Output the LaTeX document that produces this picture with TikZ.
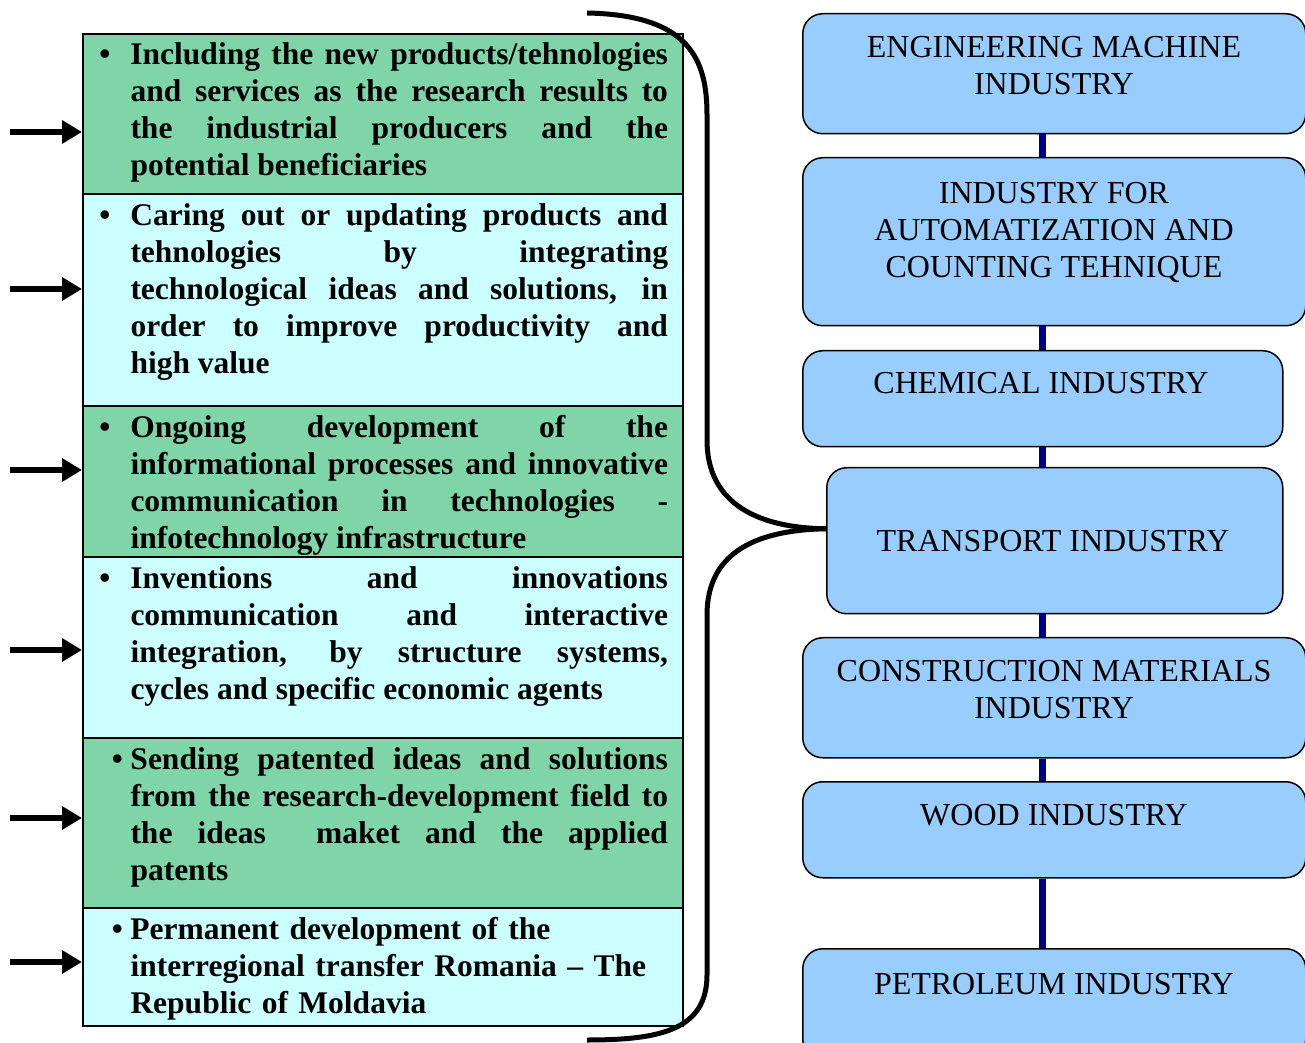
\documentclass[tikz,border=0pt]{standalone}
\usepackage{fontspec}
\setmainfont{Liberation Serif}
\usetikzlibrary{arrows.meta,positioning,calc}
\definecolor{leafgreen}{RGB}{127,212,168}
\definecolor{palecyan}{RGB}{204,255,255}
\definecolor{skyblue}{RGB}{153,204,255}
\definecolor{linknavy}{RGB}{0,0,128}
\tolerance=10000
\hyphenpenalty=10000
\newcommand{\bul}{\leavevmode\llap{\textbullet\hspace{8pt}}}
\newcommand{\bulnear}{\leavevmode\llap{\textbullet\hspace{3pt}}}

\begin{document}
\begin{tikzpicture}[x=0.4pt, y=-0.4pt,
			panel/.style      = {draw, line width=0.8pt, rectangle, anchor=north west, minimum width=240pt, inner sep=0pt},
			point/.style      = {anchor=north west, inner sep=0pt, text width=215pt, align=justify, font=\bfseries\fontsize{12.6}{14.8}\selectfont},
			branch/.style     = {draw, line width=0.6pt, fill=skyblue, rounded corners=8pt, rectangle, anchor=north west, inner sep=0pt},
			branchtext/.style = {anchor=north, inner sep=0pt, align=center, font=\fontsize{12.8}{14.8}\selectfont},
			feed/.style       = {line width=2.4pt, -{Triangle[length=8pt,width=9pt]}},
			link/.style       = {linknavy, line width=2.8pt},
			brace/.style      = {line width=2pt}]
			
			\useasboundingbox (0,0) rectangle (1305,1043);
			\clip (0,0) rectangle (1305,1043);
			
			%% LEFT COLUMN: PANELS
			\node[panel, fill=leafgreen, minimum height=64pt]   (p1) at (82,33) {};
			\node[panel, fill=palecyan,  minimum height=84.8pt] (p2) at (82,193) {};
			\node[panel, fill=leafgreen, minimum height=60.4pt] (p3) at (82,405) {};
			\node[panel, fill=palecyan,  minimum height=72.4pt] (p4) at (82,556) {};
			\node[panel, fill=leafgreen, minimum height=68pt]   (p5) at (82,737) {};
			\node[panel, fill=palecyan,  minimum height=47.2pt] (p6) at (82,907) {};
			
			%% LEFT COLUMN: TEXTS
			\node[point] (t1) at (130,42) {\bul Including the new products/tehnologies\linebreak and services as the research results to\linebreak the industrial producers and the\linebreak potential beneficiaries};
			\node[point] (t2) at (130,203) {\bul Caring out or updating products and\linebreak tehnologies by integrating\linebreak technological ideas and solutions, in\linebreak order to improve productivity and\linebreak high value};
			\node[point] (t3) at (130,415) {\bul Ongoing development of the\linebreak informational processes and innovative\linebreak communication in technologies -\linebreak infotechnology infrastructure};
			\node[point] (t4) at (130,566) {\bul Inventions and innovations\linebreak communication and interactive\linebreak integration, by structure systems,\linebreak cycles and specific economic agents};
			\node[point] (t5) at (130,747) {\bulnear Sending patented ideas and solutions\linebreak from the research-development field to\linebreak the ideas~ maket and the applied\linebreak patents};
			\node[point, align=left] (t6) at (130,917) {\bulnear Permanent development of the\\ interregional transfer Romania -- The\\ Republic of Moldavia};
			
			% arrows into the panels
			\draw[feed] (10,132) coordinate (s1) -- (s1 -| p1.west);
			\draw[feed] (10,289) coordinate (s2) -- (s2 -| p2.west);
			\draw[feed] (10,470) coordinate (s3) -- (s3 -| p3.west);
			\draw[feed] (10,650) coordinate (s4) -- (s4 -| p4.west);
			\draw[feed] (10,818) coordinate (s5) -- (s5 -| p5.west);
			\draw[feed] (10,962) coordinate (s6) -- (s6 -| p6.west);
			
			%% RIGHT COLUMN: INDUSTRIES
			\node[branch, minimum width=201.2pt, minimum height=48pt]   (eng)   at (802,13) {};
			\node[branch, minimum width=201.2pt, minimum height=67.2pt] (auto)  at (802,157) {};
			\node[branch, minimum width=192pt,   minimum height=38.4pt] (chem)  at (802,350) {};
			\node[branch, minimum width=182.4pt, minimum height=58.4pt] (trans) at (826,467) {};
			\node[branch, minimum width=201.2pt, minimum height=48pt]   (cons)  at (802,637) {};
			\node[branch, minimum width=201.2pt, minimum height=38.4pt] (wood)  at (802,781) {};
			\node[branch, minimum width=201.2pt, minimum height=44pt]   (petro) at (802,948) {};
			
			\node[branchtext] (engt)   at (1054,36)  {ENGINEERING MACHINE\\INDUSTRY};
			\node[branchtext] (autot)  at (1054,182) {INDUSTRY FOR\\AUTOMATIZATION AND\\COUNTING TEHNIQUE};
			\node[branchtext] (chemt)  at (1041,372) {CHEMICAL INDUSTRY};
			\node[branchtext] (transt) at (1053,530) {TRANSPORT INDUSTRY};
			\node[branchtext] (const)  at (1054,660) {CONSTRUCTION MATERIALS\\INDUSTRY};
			\node[branchtext] (woodt)  at (1054,804) {WOOD INDUSTRY};
			\node[branchtext] (petrot) at (1054,973) {PETROLEUM INDUSTRY};
			
			% navy links between the boxes
			\coordinate (spine) at (1042,0);
			\draw[link] (eng.south -| spine)   -- (auto.north -| spine);
			\draw[link] (auto.south -| spine)  -- (chem.north -| spine);
			\draw[link] (chem.south -| spine)  -- (trans.north -| spine);
			\draw[link] (trans.south -| spine) -- (cons.north -| spine);
			\draw[link] (cons.south -| spine)  -- (wood.north -| spine);
			\draw[link] (wood.south -| spine)  -- (petro.north -| spine);
			
			%% BRACE
			\coordinate (bracetip) at ($(trans.west)+(0,-12)$);
			\draw[brace] (587,13) .. controls (690,15) and (707,60) .. (707,115) -- (707,440) .. controls (707,505) and (760,528) .. (bracetip);
			\draw[brace] (bracetip) .. controls (760,530) and (707,550) .. (707,615) -- (707,975) .. controls (707,1030) and (660,1040) .. (587,1040);
\end{tikzpicture}
\end{document}
